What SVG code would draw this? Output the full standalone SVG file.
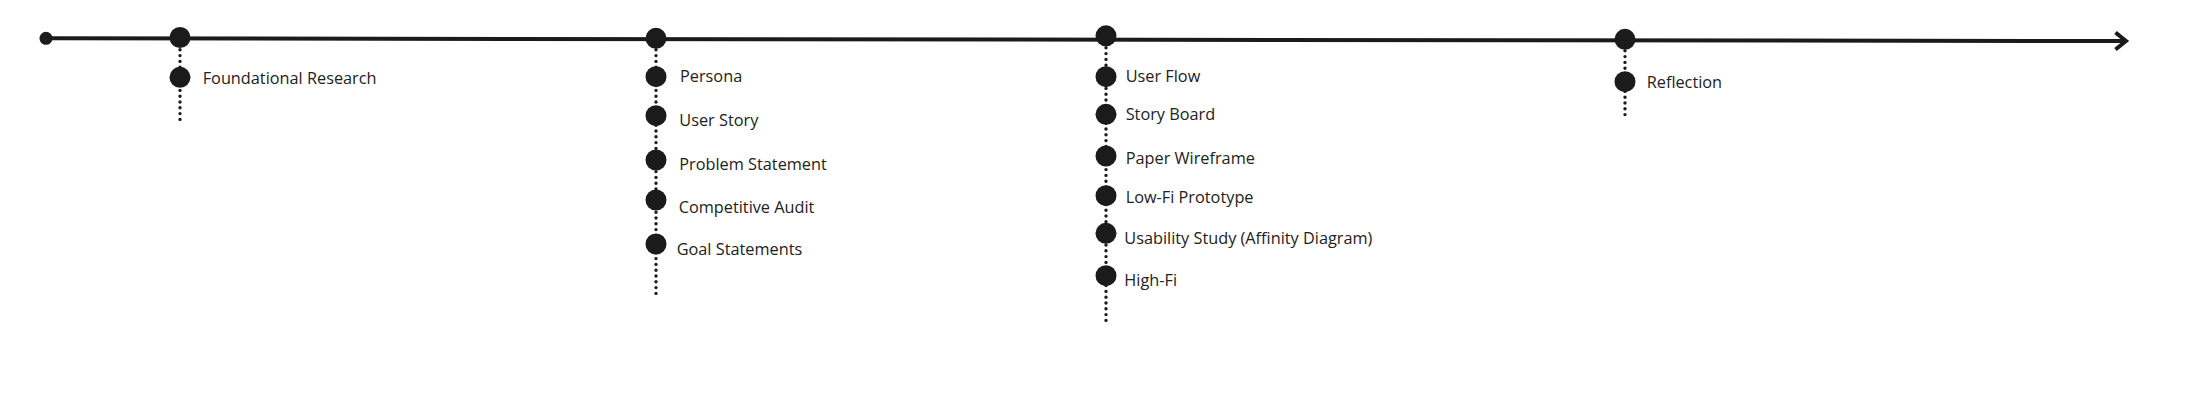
<svg xmlns="http://www.w3.org/2000/svg" width="2190" height="404" viewBox="0 0 2190 404">
  <style>
    .dot { fill: #1b1b1b; }
    .lbl { font-family: "Open Sans", "Noto Sans", "DejaVu Sans", sans-serif; font-size: 16.3px; fill: #222222; }
    .axis { stroke: #1b1b1b; stroke-width: 4; fill: none; }
    .dots { stroke: #1b1b1b; stroke-width: 3.4; stroke-linecap: round; stroke-dasharray: 0 5.8; fill: none; }
  </style>
  <defs>
    <marker id="chev" markerUnits="userSpaceOnUse" markerWidth="16" markerHeight="22" refX="12" refY="11" orient="auto">
      <path d="M1.5 2.5 L12 11 L1.5 19.5" fill="none" stroke="#1b1b1b" stroke-width="4" stroke-linejoin="miter"/>
    </marker>
  </defs>
  <rect width="2190" height="404" fill="#ffffff"/>

  <g id="connectors">
    <line class="axis" x1="46" y1="38.3" x2="2126" y2="41" marker-end="url(#chev)"/>
    <line class="dots" x1="180" y1="44" x2="180" y2="120.7"/>
    <line class="dots" x1="656" y1="44" x2="656" y2="298"/>
    <line class="dots" x1="1106" y1="42" x2="1106" y2="325"/>
    <line class="dots" x1="1625" y1="45" x2="1625" y2="119.3"/>
  </g>

  <g id="start">
    <circle class="dot" cx="46" cy="38.3" r="6.5"/>
  </g>

  <g id="m1">
    <circle class="dot" cx="180" cy="37.5" r="10.5"/>
  </g>
  <g id="m1-foundational-research">
    <circle class="dot" cx="180" cy="77.3" r="10.5"/>
    <text class="lbl" x="202.7" y="84.3">Foundational Research</text>
  </g>

  <g id="m2">
    <circle class="dot" cx="656" cy="38.3" r="10.5"/>
  </g>
  <g id="m2-persona">
    <circle class="dot" cx="656" cy="76.7" r="10.5"/>
    <text class="lbl" x="680" y="82">Persona</text>
  </g>
  <g id="m2-user-story">
    <circle class="dot" cx="656" cy="115.7" r="10.5"/>
    <text class="lbl" x="679.3" y="126">User Story</text>
  </g>
  <g id="m2-problem-statement">
    <circle class="dot" cx="656" cy="160" r="10.5"/>
    <text class="lbl" x="679.3" y="170">Problem Statement</text>
  </g>
  <g id="m2-competitive-audit">
    <circle class="dot" cx="656" cy="200" r="10.5"/>
    <text class="lbl" x="678.7" y="213">Competitive Audit</text>
  </g>
  <g id="m2-goal-statements">
    <circle class="dot" cx="656" cy="244" r="10.5"/>
    <text class="lbl" x="676.7" y="255">Goal Statements</text>
  </g>

  <g id="m3">
    <circle class="dot" cx="1106" cy="35.8" r="10.5"/>
  </g>
  <g id="m3-user-flow">
    <circle class="dot" cx="1106" cy="76.7" r="10.5"/>
    <text class="lbl" x="1125.7" y="82.3">User Flow</text>
  </g>
  <g id="m3-story-board">
    <circle class="dot" cx="1106" cy="114.3" r="10.5"/>
    <text class="lbl" x="1125.7" y="120">Story Board</text>
  </g>
  <g id="m3-paper-wireframe">
    <circle class="dot" cx="1106" cy="156" r="10.5"/>
    <text class="lbl" x="1125.7" y="164">Paper Wireframe</text>
  </g>
  <g id="m3-low-fi-prototype">
    <circle class="dot" cx="1106" cy="195.7" r="10.5"/>
    <text class="lbl" x="1125.7" y="203.3">Low-Fi Prototype</text>
  </g>
  <g id="m3-usability-study">
    <circle class="dot" cx="1106" cy="233.3" r="10.5"/>
    <text class="lbl" x="1124.3" y="244.3">Usability Study (Affinity Diagram)</text>
  </g>
  <g id="m3-high-fi">
    <circle class="dot" cx="1106" cy="275.7" r="10.5"/>
    <text class="lbl" x="1124.3" y="285.7">High-Fi</text>
  </g>

  <g id="m4">
    <circle class="dot" cx="1625" cy="39.3" r="10.5"/>
  </g>
  <g id="m4-reflection">
    <circle class="dot" cx="1625" cy="81.7" r="10.5"/>
    <text class="lbl" x="1646.7" y="87.7">Reflection</text>
  </g>
</svg>
